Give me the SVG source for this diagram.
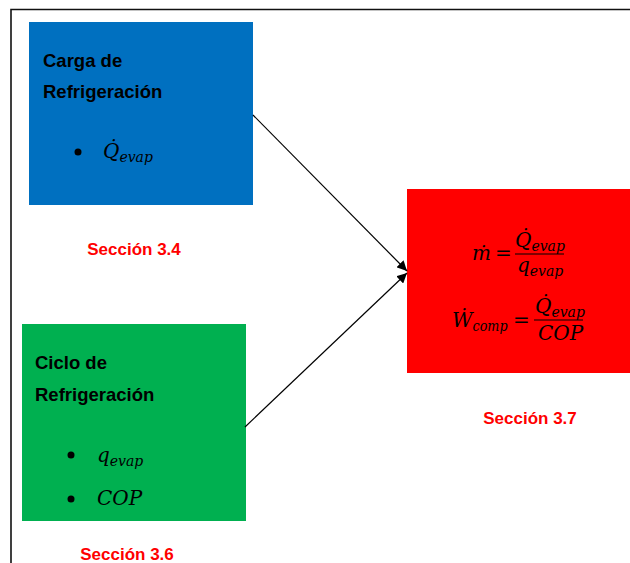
<svg xmlns="http://www.w3.org/2000/svg" width="630" height="563" viewBox="0 0 630 563">
  <style>
    .title { font-family: "Liberation Sans", Arial, sans-serif; font-weight: bold; font-size: 18.5px; fill: #000; }
    .sec { font-family: "Liberation Sans", Arial, sans-serif; font-weight: bold; font-size: 17px; fill: #FF0000; }
    .math { font-family: "DejaVu Serif", "Liberation Serif", serif; font-style: italic; font-size: 20px; fill: #000; }
    .sub { font-size: 14px; }
    .op { font-family: "DejaVu Serif", "Liberation Serif", serif; font-style: normal; font-size: 20px; fill: #000; }
    .conn { stroke: #000; stroke-width: 1.2; fill: none; marker-end: url(#arrow); }
    .frac { stroke: #000; stroke-width: 1.2; }
  </style>
  <defs>
    <marker id="arrow" viewBox="0 0 10 10" refX="10" refY="5" markerWidth="10" markerHeight="10" markerUnits="userSpaceOnUse" orient="auto">
      <path d="M0,0 L10,5 L0,10 z" fill="#000"/>
    </marker>
  </defs>

  <rect width="630" height="563" fill="#fff"/>
  <!-- page frame -->
  <path d="M11,563 V9.5 H630" fill="none" stroke="#111" stroke-width="1.6"/>

  <g id="carga">
    <rect x="29" y="22" width="224" height="183" fill="#0070C0"/>
    <text class="title" x="43" y="67">Carga de</text>
    <text class="title" x="43" y="98">Refrigeración</text>
    <circle cx="78" cy="152" r="3.5" fill="#000"/>
    <text class="math" x="103" y="158">Q&#x307;<tspan class="sub" dy="4">evap</tspan></text>
  </g>
  <text id="sec34" class="sec" x="134" y="255" text-anchor="middle">Sección 3.4</text>

  <g id="ciclo">
    <rect x="22" y="324" width="224" height="197" fill="#00B050"/>
    <text class="title" x="35" y="369">Ciclo de</text>
    <text class="title" x="35" y="401">Refrigeración</text>
    <circle cx="71" cy="455" r="3.5" fill="#000"/>
    <text class="math" x="97" y="462">q<tspan class="sub" dy="4">evap</tspan></text>
    <circle cx="71" cy="499" r="3.5" fill="#000"/>
    <text class="math" x="97" y="505">COP</text>
  </g>
  <text id="sec36" class="sec" x="127" y="560" text-anchor="middle">Sección 3.6</text>

  <g id="resultado">
    <rect x="407" y="189" width="223" height="184" fill="#FF0000"/>
    <text class="math" x="472" y="260">ṁ</text>
    <text class="op" x="495" y="260">=</text>
    <text class="math" x="515" y="247">Q&#x307;<tspan class="sub" dy="4">evap</tspan></text>
    <line class="frac" x1="515" y1="254" x2="564" y2="254"/>
    <text class="math" x="517" y="272">q<tspan class="sub" dy="4">evap</tspan></text>

    <text class="math" x="452" y="327">Ẇ<tspan class="sub" dy="4" textLength="35" lengthAdjust="spacingAndGlyphs">comp</tspan></text>
    <text class="op" x="513" y="327">=</text>
    <text class="math" x="535" y="313">Q&#x307;<tspan class="sub" dy="4">evap</tspan></text>
    <line class="frac" x1="534" y1="320" x2="583" y2="320"/>
    <text class="math" x="538" y="340">COP</text>
  </g>
  <text id="sec37" class="sec" x="530" y="424" text-anchor="middle">Sección 3.7</text>

  <g id="connectors">
    <line class="conn" x1="253" y1="115" x2="407" y2="271"/>
    <line class="conn" x1="245" y1="427" x2="407" y2="273"/>
  </g>
</svg>
